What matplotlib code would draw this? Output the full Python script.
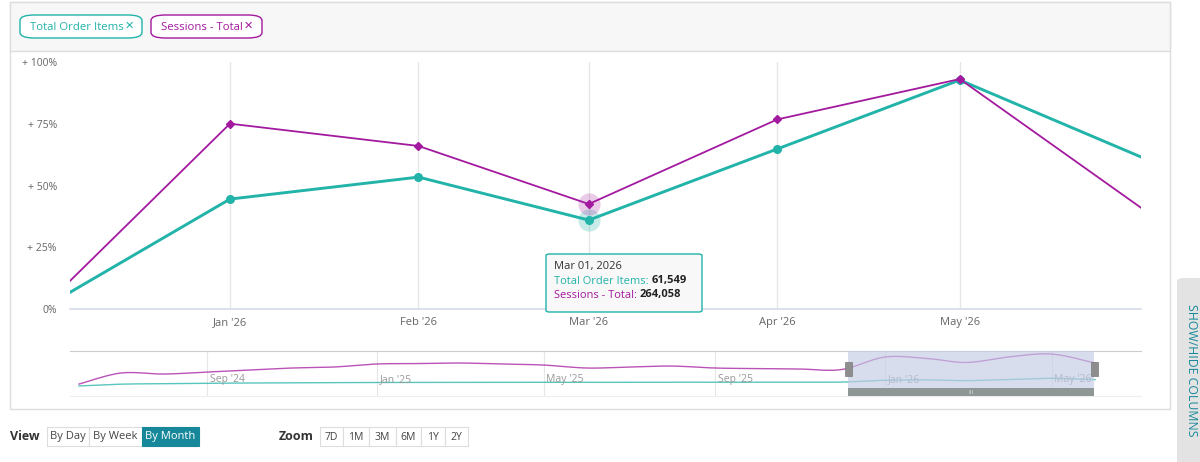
import numpy as np
import pandas as pd
import matplotlib
matplotlib.use("Agg")
import matplotlib.pyplot as plt
import matplotlib.dates as mdates
from matplotlib.patches import Rectangle, FancyBboxPatch

plt.rcParams['font.family'] = ['Open Sans', 'DejaVu Sans']

# monthly data, Jun '24 .. Jun '26
months = pd.date_range('2024-06-01', periods=25, freq='MS')
sessions = [23000, 146000, 135000, 157000, 180000, 202000, 213000, 247000, 252000,
            258000, 247000, 235000, 202000, 213000, 224000, 202000, 196000, 191000,
            185304, 324337, 307605, 264058, 327543, 357822, 257387]
orders = [2000, 22000, 27000, 32000, 35000, 37000, 39000, 41000, 41000,
          42000, 42000, 43000, 42000, 43000, 44000, 43000, 44000, 44000,
          45257, 65396, 69424, 61549, 74583, 87210, 72547]
base_idx = 18      # Dec '25 = 0%
hover_idx = 21     # Mar '26

y_ticks = [0, 25, 50, 75, 100]
y_labels = ['0%', '+ 25%', '+ 50%', '+ 75%', '+ 100%']
main_ticks = pd.to_datetime(['2026-01-01', '2026-02-01', '2026-03-01', '2026-04-01', '2026-05-01'])
nav_ticks = pd.to_datetime(['2024-09-01', '2025-01-01', '2025-05-01', '2025-09-01',
                            '2026-01-01', '2026-05-01'])
view_buttons = ['By Day', 'By Week', 'By Month']
zoom_buttons = ['7D', '1M', '3M', '6M', '1Y', '2Y']

TEAL = '#22b3a9'
MAG = '#a3199f'
W, H = 1200, 462

fig = plt.figure(figsize=(W / 100, H / 100), dpi=100)
fig.patch.set_facecolor('white')
renderer = fig.canvas.get_renderer()


def fx(x):
    return x / W


def fy(y):
    return 1 - y / H


def rect(x0, y0, x1, y1, **kw):
    r = Rectangle((fx(x0), fy(y1)), fx(x1) - fx(x0), fy(y0) - fy(y1),
                  transform=fig.transFigure, **kw)
    fig.add_artist(r)
    return r


def rbox(x0, y0, x1, y1, pad=0.004, **kw):
    b = FancyBboxPatch((fx(x0), fy(y1)), fx(x1) - fx(x0), fy(y0) - fy(y1),
                       boxstyle='round,pad=0,rounding_size=%f' % pad,
                       transform=fig.transFigure, **kw)
    fig.add_artist(b)
    return b


def smooth(x, y, n=12):
    # catmull-rom through the points, just for drawing
    x = np.asarray(x, float)
    y = np.asarray(y, float)
    px = np.r_[x[0], x, x[-1]]
    py = np.r_[y[0], y, y[-1]]
    xs, ys = [], []
    t = np.linspace(0, 1, n, endpoint=False)
    for i in range(1, len(px) - 2):
        for arr, out in ((px, xs), (py, ys)):
            p0, p1, p2, p3 = arr[i - 1], arr[i], arr[i + 1], arr[i + 2]
            out.extend(0.5 * (2 * p1 + (-p0 + p2) * t + (2 * p0 - 5 * p1 + 4 * p2 - p3) * t ** 2
                              + (-p0 + 3 * p1 - 3 * p2 + p3) * t ** 3))
    xs.append(x[-1])
    ys.append(y[-1])
    return np.array(xs), np.array(ys)


# panel frame + header
rect(10, 2, 1170, 409, facecolor='white', edgecolor='#dddddd', lw=1, zorder=0)
rect(10, 2, 1170, 51, facecolor='#f7f7f7', edgecolor='#dddddd', lw=1, zorder=1)

for label, col, cx0, cx1 in (('Total Order Items', TEAL, 20, 142), ('Sessions - Total', MAG, 151, 262)):
    rbox(cx0, 15, cx1, 38, pad=0.012, facecolor='white', edgecolor=col, lw=1, zorder=2)
    t = fig.text(fx(cx0 + 10), fy(27), label, color=col, fontsize=8.2, va='center', zorder=3)
    bb = t.get_window_extent(renderer)
    fig.text(bb.x1 / W + fx(1), fy(26), '✕', color=col, fontsize=8, va='center',
             family=['DejaVu Sans'], zorder=3)

# main chart
ax = fig.add_axes([fx(70), fy(309), fx(1141) - fx(70), fy(62) - fy(309)])
ax.patch.set_alpha(0)
dates = months[base_idx:]
sess_pct = (np.array(sessions[base_idx:]) / sessions[base_idx] - 1) * 100
ord_pct = (np.array(orders[base_idx:]) / orders[base_idx] - 1) * 100

ax.plot(dates, ord_pct, color=TEAL, lw=2.1, marker='o', ms=5.5, zorder=3)
ax.plot(dates, sess_pct, color=MAG, lw=1.3, marker='D', ms=4.5, zorder=4)
hd = months[hover_idx]
ax.plot([hd], [ord_pct[hover_idx - base_idx]], 'o', ms=16, color=TEAL, alpha=0.25, mec='none', zorder=2)
ax.plot([hd], [sess_pct[hover_idx - base_idx]], 'o', ms=16, color=MAG, alpha=0.22, mec='none', zorder=2)

x0 = mdates.date2num(pd.Timestamp('2026-01-01')) - 26.3
x1 = mdates.date2num(pd.Timestamp('2026-01-01')) + 149.8
ax.set_xlim(x0, x1)
ax.set_ylim(0, 100)
ax.set_yticks(y_ticks)
ax.set_yticklabels(y_labels)
ax.set_xticks(main_ticks)
ax.set_xticklabels([d.strftime("%b '%y") for d in main_ticks])
ax.tick_params(axis='y', length=0, pad=9.5, labelsize=7.5, labelcolor='#666666')
ax.tick_params(axis='x', length=0, pad=6, labelsize=8, labelcolor='#666666')
for s in ax.spines.values():
    s.set_visible(False)
for d in main_ticks:
    ax.axvline(d, color='#e6e6e6', lw=1, zorder=0)
ax.axhline(0, color='#d5dae6', lw=1.2, zorder=1, clip_on=False)

# tooltip
rbox(546, 254, 702, 312, pad=0.003, facecolor='#f8f8f8', edgecolor=TEAL, lw=1, zorder=10)
fig.text(fx(554), fy(267), hd.strftime('%b %d, %Y'), color='#333333', fontsize=8, va='center', zorder=11)
rows = [('Total Order Items: ', orders[hover_idx], TEAL, 281),
        ('Sessions - Total: ', sessions[hover_idx], MAG, 295)]
for label, val, col, yy in rows:
    t = fig.text(fx(554), fy(yy), label, color=col, fontsize=8, va='center', zorder=11)
    bb = t.get_window_extent(renderer)
    fig.text(bb.x1 / W, fy(yy), f'{val:,}', color='#222222',
             fontsize=8, fontweight='bold', va='center', zorder=11)

# navigator
nav = fig.add_axes([fx(70), fy(396), fx(1141) - fx(70), fy(351) - fy(396)])
nav.patch.set_alpha(0)
mx = mdates.date2num(months)
day_px = 1016 / (mx[-1] - mx[0])
nav.set_xlim(mx[0] - 9 / day_px, mx[-1] + 46 / day_px)
nav.set_ylim(-110, 392)
sx, sy = smooth(mx, np.array(sessions) / 1000)
ox, oy = smooth(mx, np.array(orders) / 1000)
nav.plot(sx, sy, color=MAG, lw=1, alpha=0.75, zorder=3)
nav.plot(ox, oy, color=TEAL, lw=1, alpha=0.75, zorder=3)
for d in nav_ticks:
    dn = mdates.date2num(d)
    nav.axvline(dn, color='#e6e6e6', lw=0.8, zorder=0)
    nav.text(dn + 2.5 / day_px, 0.36, d.strftime("%b '%y"), fontsize=7.5, color='#999999',
             va='center', ha='left', transform=nav.get_xaxis_transform(), zorder=8)
nav.set_xticks([])
nav.set_yticks([])
for k, s in nav.spines.items():
    s.set_visible(k in ('top', 'bottom'))
    s.set_color('#cccccc' if k == 'top' else '#eeeeee')

# selected range, handles and scrollbar
rect(848, 351, 1094, 388, facecolor='#c4cce6', alpha=0.65, edgecolor='none', zorder=5)
rect(848, 388, 1094, 396, facecolor='#8e9696', edgecolor='none', zorder=6)
fig.text(fx(971), fy(392), 'III', color='#d8d8d8', fontsize=4.5, ha='center', va='center', zorder=7)
rect(845, 362, 852, 376, facecolor='#8e8e8e', edgecolor='#7a7a7a', lw=0.5, zorder=7)
rect(1091, 362, 1098, 376, facecolor='#8e8e8e', edgecolor='#7a7a7a', lw=0.5, zorder=7)

# controls under the chart
fig.text(fx(10), fy(436), 'View', fontsize=9, fontweight='bold', color='#333333', va='center')
vx = [47, 89, 142, 199]
for i, lab in enumerate(view_buttons):
    active = lab == 'By Month'
    rect(vx[i], 427, vx[i + 1], 446, facecolor='#17889a' if active else 'white',
         edgecolor='#17889a' if active else '#dddddd', lw=0.8)
    fig.text(fx((vx[i] + vx[i + 1]) / 2), fy(437), lab, fontsize=8,
             color='white' if active else '#444444', ha='center', va='center')
fig.text(fx(279), fy(436), 'Zoom', fontsize=9, fontweight='bold', color='#333333', va='center')
zx = [320, 343, 369, 396, 421, 445, 468]
for i, lab in enumerate(zoom_buttons):
    rect(zx[i], 427, zx[i + 1], 446, facecolor='white', edgecolor='#dddddd', lw=0.8)
    fig.text(fx((zx[i] + zx[i + 1]) / 2), fy(437), lab, fontsize=7.5, color='#444444',
             ha='center', va='center')

# show/hide columns tab
rbox(1177, 278, 1210, 470, pad=0.006, facecolor='#e3e3e3', edgecolor='none')
fig.text(fx(1191), fy(370), 'SHOW/HIDE COLUMNS', rotation=270, fontsize=8.8, color='#17889a',
         ha='center', va='center')

fig.savefig('out.png', dpi=100)
